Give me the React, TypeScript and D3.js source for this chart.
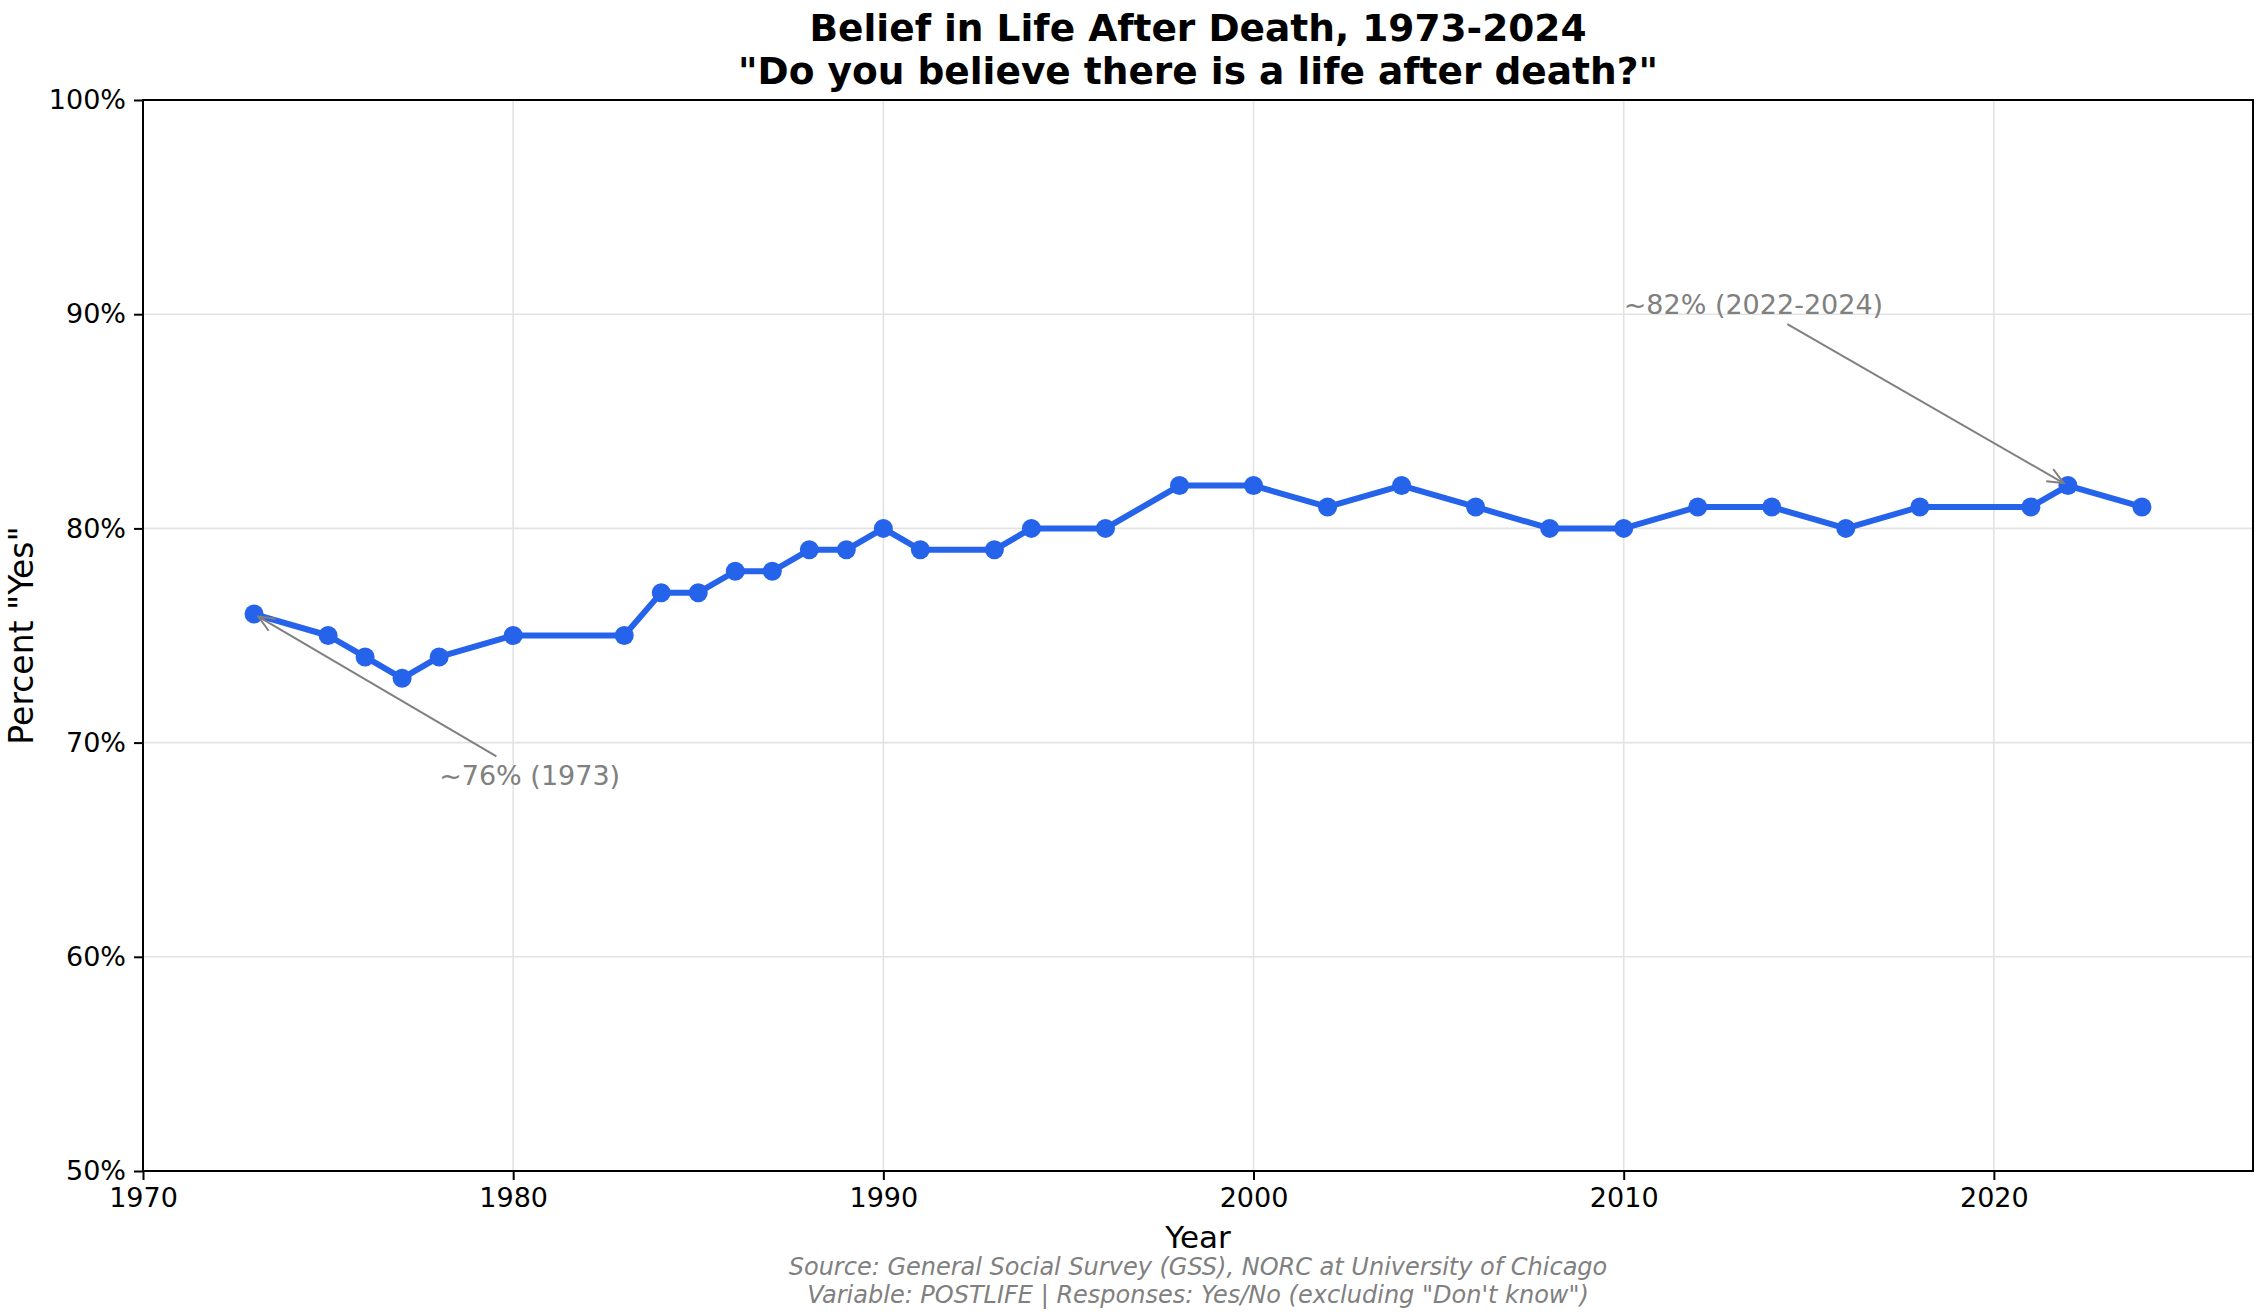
import React, { useRef, useEffect } from 'react';
import * as d3 from 'd3';

// GSS POSTLIFE, percent answering "Yes"
const years = [1973, 1975, 1976, 1977, 1978, 1980, 1983, 1984, 1985, 1986, 1987, 1988, 1989, 1990, 1991, 1993, 1994, 1996, 1998, 2000, 2002, 2004, 2006, 2008, 2010, 2012, 2014, 2016, 2018, 2021, 2022, 2024];
const pctYes = [76, 75, 74, 73, 74, 75, 75, 77, 77, 78, 78, 79, 79, 80, 79, 79, 80, 80, 82, 82, 81, 82, 81, 80, 80, 81, 81, 80, 81, 81, 82, 81];

const xTicks = [1970, 1980, 1990, 2000, 2010, 2020];
const yTicks = [50, 60, 70, 80, 90, 100];

const titleLines = ['Belief in Life After Death, 1973-2024', '"Do you believe there is a life after death?"'];
const sourceLines = [
    'Source: General Social Survey (GSS), NORC at University of Chicago',
    'Variable: POSTLIFE | Responses: Yes/No (excluding "Don\'t know")',
];

const notes = [
    { label: '~76% (1973)', year: 1973, value: 76, textYear: 1978, textValue: 68 },
    { label: '~82% (2022-2024)', year: 2022, value: 82, textYear: 2010, textValue: 90 },
];

const W = 2268;
const H = 1312;
const FONT = '"DejaVu Sans", sans-serif';
const BLUE = '#2563eb';
const GREY = '#808080';

const Chart: React.FC = () => {
    const svgRef = useRef<SVGSVGElement>(null);

    useEffect(() => {
        if (!svgRef.current) return;
        document.body.style.margin = '0';

        const svg = d3.select(svgRef.current);
        svg.selectAll('*').remove();

        const margin = { top: 100, right: 15, bottom: 141, left: 143 };
        const x = d3.scaleLinear().domain([1970, 2027]).range([margin.left, W - margin.right]);
        const y = d3.scaleLinear().domain([50, 100]).range([H - margin.bottom, margin.top]);

        svg.append('rect').attr('width', W).attr('height', H).attr('fill', '#fff');

        const defs = svg.append('defs');
        defs.append('marker')
            .attr('id', 'open-arrow')
            .attr('viewBox', '0 0 20 20')
            .attr('refX', 18)
            .attr('refY', 10)
            .attr('markerWidth', 20)
            .attr('markerHeight', 20)
            .attr('markerUnits', 'userSpaceOnUse')
            .attr('orient', 'auto')
            .append('path')
            .attr('d', 'M2,3 L18,10 L2,17')
            .attr('fill', 'none')
            .attr('stroke', GREY)
            .attr('stroke-width', 2);

        // grid
        const grid = svg.append('g').attr('stroke', '#e3e3e3').attr('stroke-width', 1.6);
        grid.selectAll('line.gx')
            .data(xTicks)
            .join('line')
            .attr('x1', d => x(d)).attr('x2', d => x(d))
            .attr('y1', y(50)).attr('y2', y(100));
        grid.selectAll('line.gy')
            .data(yTicks)
            .join('line')
            .attr('class', 'gy')
            .attr('x1', x(1970)).attr('x2', x(2027))
            .attr('y1', d => y(d)).attr('y2', d => y(d));

        // axes
        const xAxis = svg.append('g')
            .attr('transform', `translate(0,${y(50)})`)
            .call(d3.axisBottom(x).tickValues(xTicks).tickFormat(d3.format('d')).tickSize(9).tickPadding(8));
        const yAxis = svg.append('g')
            .attr('transform', `translate(${x(1970)},0)`)
            .call(d3.axisLeft(y).tickValues(yTicks).tickFormat(d => `${d}%`).tickSize(9).tickPadding(8));
        [xAxis, yAxis].forEach(a => {
            a.select('.domain').remove();
            a.selectAll('line').attr('stroke', '#000').attr('stroke-width', 2);
            a.selectAll('text').attr('font-family', FONT).attr('font-size', 27).attr('fill', '#000');
        });

        // frame
        svg.append('rect')
            .attr('x', x(1970)).attr('y', y(100))
            .attr('width', x(2027) - x(1970)).attr('height', y(50) - y(100))
            .attr('fill', 'none').attr('stroke', '#000').attr('stroke-width', 2);

        // series
        const pts = years.map((yr, i) => ({ yr, v: pctYes[i] }));
        const line = d3.line<{ yr: number; v: number }>().x(d => x(d.yr)).y(d => y(d.v));
        svg.append('path')
            .datum(pts)
            .attr('d', line)
            .attr('fill', 'none')
            .attr('stroke', BLUE)
            .attr('stroke-width', 6)
            .attr('stroke-linejoin', 'round');
        svg.selectAll('circle.pt')
            .data(pts)
            .join('circle')
            .attr('class', 'pt')
            .attr('cx', d => x(d.yr))
            .attr('cy', d => y(d.v))
            .attr('r', 9.5)
            .attr('fill', BLUE);

        // annotations
        notes.forEach(n => {
            const t = svg.append('text')
                .attr('x', x(n.textYear))
                .attr('y', y(n.textValue))
                .attr('font-family', FONT)
                .attr('font-size', 27)
                .attr('fill', GREY)
                .text(n.label);
            const bb = (t.node() as SVGTextElement).getBBox();
            const cx = bb.x + bb.width / 2;
            const cy = bb.y + bb.height / 2;
            const px = x(n.year);
            const py = y(n.value);
            const dx = px - cx;
            const dy = py - cy;
            const hw = bb.width / 2 + 4;
            const hh = bb.height / 2 + 4;
            const s = Math.min(Math.abs(dx) > 0 ? hw / Math.abs(dx) : Infinity, Math.abs(dy) > 0 ? hh / Math.abs(dy) : Infinity);
            const len = Math.hypot(dx, dy);
            const shrink = 5 / len;
            svg.append('line')
                .attr('x1', cx + dx * s)
                .attr('y1', cy + dy * s)
                .attr('x2', px - dx * shrink)
                .attr('y2', py - dy * shrink)
                .attr('stroke', GREY)
                .attr('stroke-width', 2)
                .attr('marker-end', 'url(#open-arrow)');
        });

        // titles
        svg.append('g')
            .selectAll('text')
            .data(titleLines)
            .join('text')
            .attr('x', (x(1970) + x(2027)) / 2)
            .attr('y', (d, i) => 41 + i * 43)
            .attr('text-anchor', 'middle')
            .attr('font-family', FONT)
            .attr('font-weight', 'bold')
            .attr('font-size', 37.5)
            .text(d => d);

        svg.append('text')
            .attr('x', (x(1970) + x(2027)) / 2)
            .attr('y', 1248)
            .attr('text-anchor', 'middle')
            .attr('font-family', FONT)
            .attr('font-size', 31)
            .text('Year');

        svg.append('text')
            .attr('transform', `translate(33,${(y(50) + y(100)) / 2}) rotate(-90)`)
            .attr('text-anchor', 'middle')
            .attr('font-family', FONT)
            .attr('font-size', 33)
            .text('Percent "Yes"');

        svg.append('g')
            .selectAll('text')
            .data(sourceLines)
            .join('text')
            .attr('x', (x(1970) + x(2027)) / 2)
            .attr('y', (d, i) => 1275 + i * 28)
            .attr('text-anchor', 'middle')
            .attr('font-family', FONT)
            .attr('font-style', 'italic')
            .attr('font-size', 24)
            .attr('fill', GREY)
            .text(d => d);
    }, []);

    return <svg ref={svgRef} width={W} height={H} viewBox={`0 0 ${W} ${H}`} style={{ display: 'block' }} />;
};

export default function App() {
    return <Chart />;
}
